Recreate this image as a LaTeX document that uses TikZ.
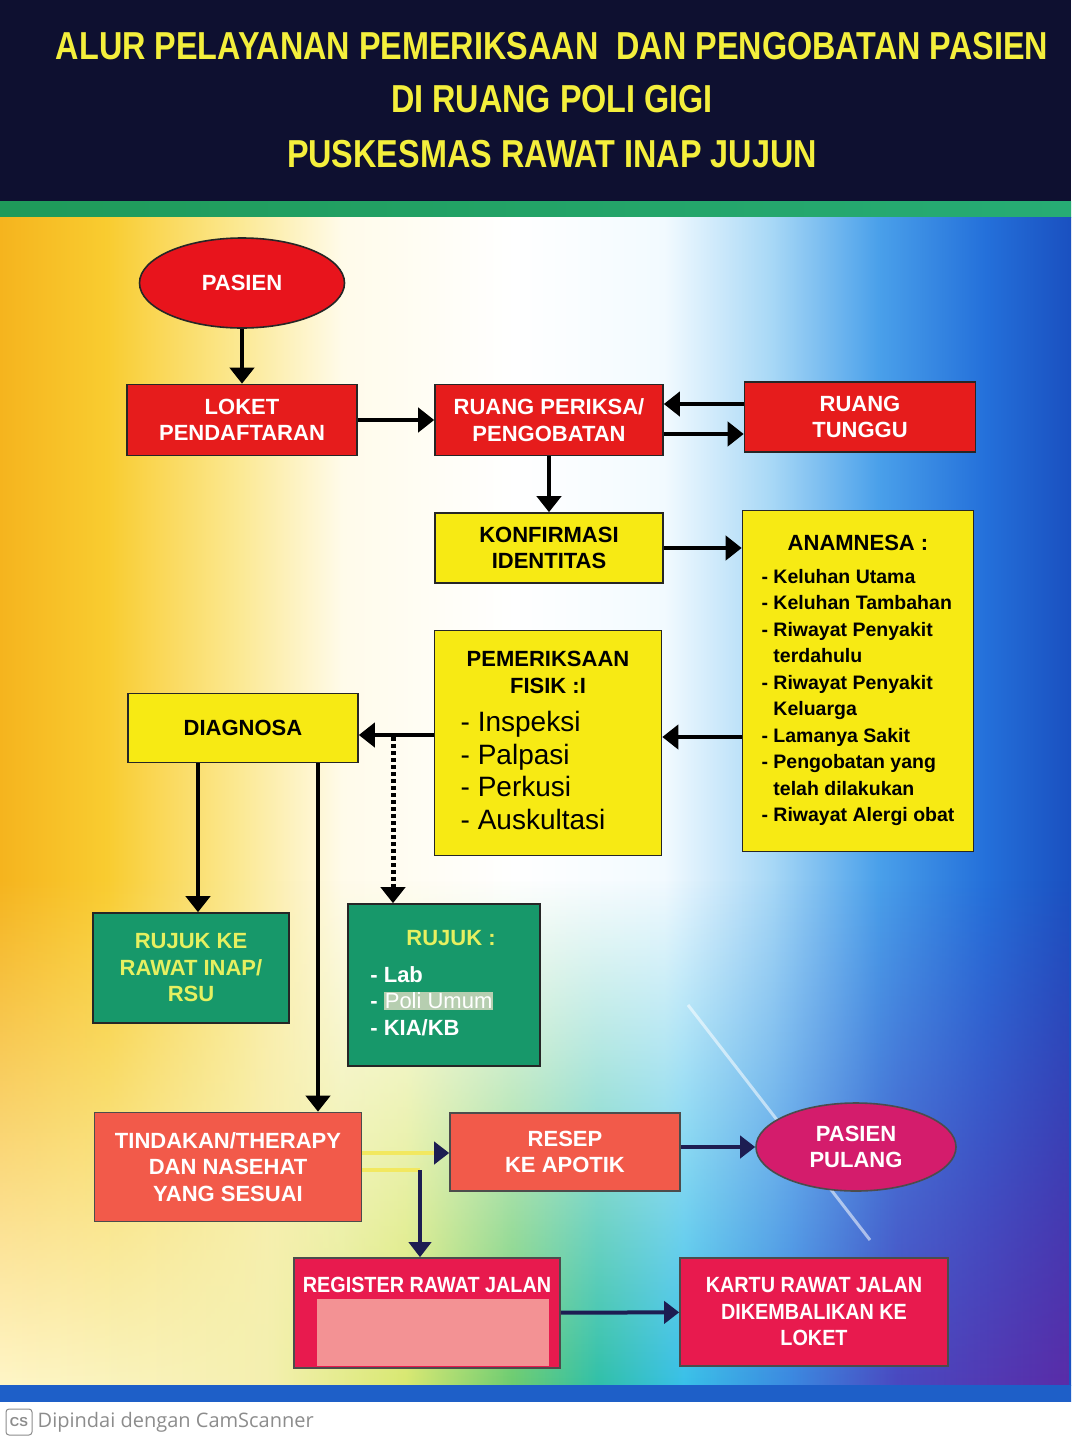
\documentclass[tikz,border=0pt]{standalone}
\usepackage{fontspec}
\usepackage{array}
\setmainfont{Liberation Sans}
\newfontfamily\titlefont{Liberation Sans}[FakeStretch=0.83]
\newfontfamily\condfont{Liberation Sans}[FakeStretch=0.9]
\newfontfamily\wmfont{Open Sans}
\usetikzlibrary{arrows.meta, positioning, shapes.geometric, fadings}

\definecolor{bgnavy}{HTML}{0E1030}
\definecolor{stripgreen}{HTML}{1F9A5A}
\definecolor{stripgreenb}{HTML}{27AC74}
\definecolor{titleyellow}{HTML}{F4EF3C}
\definecolor{topred}{HTML}{E61C1C}
\definecolor{pasred}{HTML}{E8141C}
\definecolor{boxyellow}{HTML}{F7EA14}
\definecolor{boxgreen}{HTML}{17986A}
\definecolor{grntext}{HTML}{E6F060}
\definecolor{salmon}{HTML}{F25A4A}
\definecolor{pulmag}{HTML}{D41C6C}
\definecolor{crimson}{HTML}{E81A4E}
\definecolor{tapepink}{HTML}{F39294}
\definecolor{hilite}{HTML}{B6CEB0}
\definecolor{arrnavy}{HTML}{1D1D52}
\definecolor{glowyellow}{HTML}{F2E860}
\definecolor{wmgray}{HTML}{8C8C8C}
\definecolor{bga}{HTML}{F5B41E}
\definecolor{bgb}{HTML}{F9CC30}
\definecolor{bgc}{HTML}{FBE890}
\definecolor{bgd}{HTML}{FFFBEA}
\definecolor{bge}{HTML}{F2FAFF}
\definecolor{bgf}{HTML}{A8D8F6}
\definecolor{bgg}{HTML}{4AA0EA}
\definecolor{bgh}{HTML}{2470DA}
\definecolor{bgi}{HTML}{1A50C0}
\definecolor{bba}{HTML}{FFF6C8}
\definecolor{bbb}{HTML}{F4F0B0}
\definecolor{bbc}{HTML}{D8E870}
\definecolor{bbd}{HTML}{6CCC70}
\definecolor{bbe}{HTML}{30C0A8}
\definecolor{bbf}{HTML}{38C0E8}
\definecolor{bbg}{HTML}{3A88E0}
\definecolor{bbh}{HTML}{4A48C0}
\definecolor{bbi}{HTML}{5A2CA8}
\definecolor{bandblue}{HTML}{1E5FC8}
\definecolor{bandcyan}{HTML}{36B6E6}

\pgfdeclarehorizontalshading{bgmain}{100bp}{color(0bp)=(bga); color(25bp)=(bga); color(30bp)=(bgb); color(36bp)=(bgc); color(41bp)=(bgd); color(49bp)=(white); color(56bp)=(bge); color(61bp)=(bgf); color(66bp)=(bgg); color(71bp)=(bgh); color(75bp)=(bgi); color(100bp)=(bgi)}
\pgfdeclarehorizontalshading{bgbottom}{100bp}{color(0bp)=(bba); color(25bp)=(bba); color(37.5bp)=(bbb); color(44bp)=(bbc); color(49bp)=(bbd); color(53bp)=(bbe); color(57bp)=(bbf); color(62bp)=(bbg); color(67bp)=(bbh); color(75bp)=(bbi); color(100bp)=(bbi)}

\newcommand\boxfont{\bfseries\fontsize{22}{26.5}\selectfont}
\newcommand\lowfont{\condfont\bfseries\fontsize{22}{26.5}\selectfont}
\newcommand\listfont{\bfseries\fontsize{19.5}{26.5}\selectfont}
\newcommand\fisikfont{\mdseries\fontsize{28}{33}\selectfont}
\setlength\fboxsep{1pt}

\tikzset{>={Triangle[width=24pt,length=16pt]}}
\tikzset{
  box/.style={draw=black!85, line width=1.6pt, align=center, inner sep=2pt, font=\boxfont},
  redbox/.style={box, fill=topred, text=white},
  yelbox/.style={box, fill=boxyellow, text=black},
  grnbox/.style={box, fill=boxgreen, text=grntext},
  lowbox/.style={box, draw=black!70, text=white},
  lowtext/.style={text=white, font=\lowfont, inner sep=2pt},
  titletxt/.style={text=titleyellow, font=\titlefont\bfseries\fontsize{39}{40}\selectfont},
  arr/.style={->, line width=4pt, black},
  dotarr/.style={->, line width=5pt, black, dash pattern=on 4pt off 3pt},
  navyarr/.style={-{Triangle[width=22pt,length=15pt,color=arrnavy,fill=arrnavy]}, line width=4pt, arrnavy},
  glow/.style={line width=4pt, glowyellow}
}

\begin{document}
\begin{tikzpicture}[x=1pt,y=-1pt]
\useasboundingbox (0,0) rectangle (1071,1443);

\fill[bgnavy] (0,0) rectangle (1071,201);
\shade[left color=stripgreen, right color=stripgreenb] (0,201) rectangle (1071,217);
\shade[shading=bgmain] (0,217) rectangle (1071,1385);
\shade[shading=bgbottom, path fading=north] (0,880) rectangle (1071,1385);
\shade[left color=bandblue, middle color=bandcyan, right color=bandblue] (0,1385) rectangle (1071,1401);
\draw[white, opacity=0.55, line width=3pt] (688,1005) -- (870,1240);

\node[titletxt] (t1) at (552,46) {ALUR PELAYANAN PEMERIKSAAN\ \ DAN PENGOBATAN PASIEN};
\node[titletxt] (t2) at (552,99) {DI RUANG POLI GIGI};
\node[titletxt] (t3) at (552,154) {PUSKESMAS RAWAT INAP JUJUN};

\node[ellipse, redbox, fill=pasred, minimum width=205pt, minimum height=90pt] (pasien) at (242,283) {PASIEN};
\node[redbox, minimum width=230pt, minimum height=71pt] (loket) at (242,420) {LOKET\\PENDAFTARAN};
\node[redbox, minimum width=228pt, minimum height=71pt] (periksa) at (549,420) {RUANG PERIKSA/\\PENGOBATAN};
\node[redbox, minimum width=231pt, minimum height=70pt] (tunggu) at (860,417) {RUANG\\TUNGGU};
\node[yelbox, minimum width=228pt, minimum height=70pt] (konfirm) at (549,548) {KONFIRMASI\\IDENTITAS};
\node[yelbox, minimum width=231pt, minimum height=341pt] (anam) at (858,681) {\begin{tabular}{@{}>{\listfont}l@{}}
  \multicolumn{1}{c}{ANAMNESA :}\\[6pt]
  - Keluhan Utama\\
  - Keluhan Tambahan\\
  - Riwayat Penyakit\\
  \phantom{- }terdahulu\\
  - Riwayat Penyakit\\
  \phantom{- }Keluarga\\
  - Lamanya Sakit\\
  - Pengobatan yang\\
  \phantom{- }telah dilakukan\\
  - Riwayat Alergi obat
\end{tabular}};
\node[yelbox, minimum width=227pt, minimum height=225pt] (fisik) at (548,743) {\begin{tabular}{@{}>{\fisikfont}l@{}}
  \multicolumn{1}{c}{PEMERIKSAAN}\\
  \multicolumn{1}{c}{FISIK :I}\\[9.6pt]
  - Inspeksi\\[4.6pt]
  - Palpasi\\[4.6pt]
  - Perkusi\\[4.6pt]
  - Auskultasi
\end{tabular}};
\node[yelbox, minimum width=230pt, minimum height=69pt] (diag) at (243,728) {DIAGNOSA};
\node[grnbox, minimum width=196pt, minimum height=110pt] (rujukke) at (191,968) {RUJUK KE\\RAWAT INAP/\\RSU};
\node[grnbox, minimum width=192pt, minimum height=162pt] (rujuk) at (444,985) {\begin{tabular}{@{}>{\color{white}}l@{}}
  \multicolumn{1}{c}{\hspace{30pt}RUJUK :}\\[10pt]
  - Lab\\
  - \colorbox{hilite}{\mdseries Poli Umum}\\
  - KIA/KB
\end{tabular}\hspace{16pt}};
\node[lowbox, fill=salmon, minimum width=267pt, minimum height=109pt] (tindakan) at (228,1167) {TINDAKAN/THERAPY\\DAN NASEHAT\\YANG SESUAI};
\node[lowbox, fill=salmon, minimum width=230pt, minimum height=78pt] (resep) at (565,1152) {RESEP\\KE APOTIK};
\node[ellipse, lowbox, fill=pulmag, minimum width=200pt, minimum height=88pt] (pulang) at (856,1147) {PASIEN\\PULANG};
\node[lowbox, fill=crimson, minimum width=266pt, minimum height=110pt] (register) at (427,1313) {};
\fill[tapepink] ([xshift=24pt,yshift=3pt]register.south west) rectangle ([xshift=-12pt,yshift=-42pt]register.north east);
\node[lowtext, below=18pt of register.north] (regtxt) {REGISTER RAWAT JALAN};
\node[lowbox, font=\lowfont, fill=crimson, minimum width=268pt, minimum height=108pt] (kartu) at (814,1312) {KARTU RAWAT JALAN\\DIKEMBALIKAN KE\\LOKET};

\draw[arr] (pasien) -- (loket);
\draw[arr] (loket) -- (periksa);
\draw[arr] ([yshift=13pt]tunggu.west) -- ([yshift=13pt]tunggu.west -| periksa.east);
\draw[arr] ([yshift=-14pt]periksa.east) -- ([yshift=-14pt]periksa.east -| tunggu.west);
\draw[arr] (periksa) -- (konfirm);
\draw[arr] (konfirm) -- (konfirm -| anam.west);
\draw[arr] ([yshift=-56pt]anam.west) -- ([yshift=-56pt]anam.west -| fisik.east);
\draw[arr] ([yshift=8pt]fisik.west) -- ([yshift=8pt]fisik.west -| diag.east);
\coordinate (dot) at (393,737);
\draw[dotarr] (dot) -- (dot |- rujuk.north);
\draw[arr] ([xshift=-45pt]diag.south) -- ([xshift=-45pt]diag.south |- rujukke.north);
\draw[arr] ([xshift=75pt]diag.south) -- ([xshift=75pt]diag.south |- tindakan.north);
\draw[glow] ([yshift=-3pt]tindakan.east) -- (420,1170) coordinate (branch);
\draw[glow, -{Triangle[width=22pt,length=15pt,color=arrnavy,fill=arrnavy]}] ([yshift=14pt]tindakan.east) -- ([yshift=14pt]tindakan.east -| resep.west);
\draw[navyarr] (branch) -- (branch |- register.north);
\draw[navyarr] (resep.east |- pulang.west) -- (pulang.west);
\draw[navyarr] (register) -- (kartu);

\node[draw=wmgray, rounded corners=3pt, line width=1pt, text=wmgray, font=\bfseries\fontsize{13}{14}\selectfont, minimum size=26pt, inner sep=0pt] (cs) at (19,1422) {CS};
\node[right=5pt of cs, text=wmgray, font=\wmfont\fontsize{20}{22}\selectfont, inner sep=0pt] (scan) {Dipindai dengan CamScanner};
\end{tikzpicture}
\end{document}
